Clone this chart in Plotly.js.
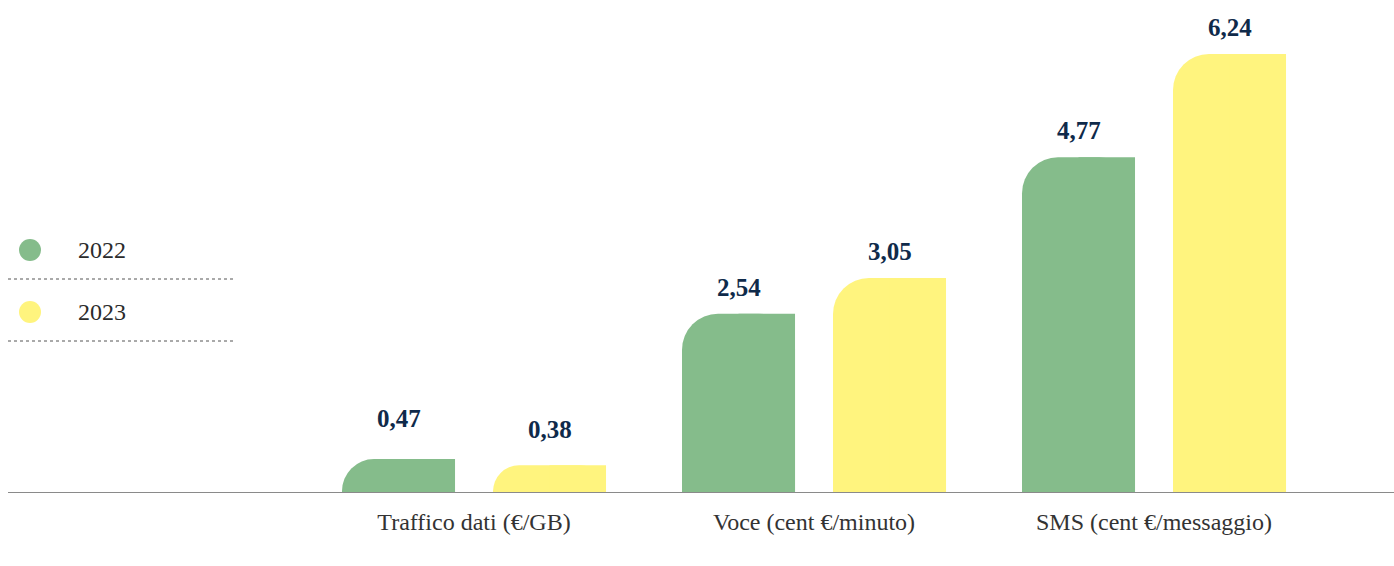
<!DOCTYPE html>
<html>
<head>
<meta charset="utf-8">
<script src="https://cdn.plot.ly/plotly-3.0.1.min.js"></script>
<style>html,body{margin:0;padding:0;background:#fff;}#chart{width:1394px;height:566px;}</style>
</head>
<body>
<div id="chart"></div>
<script>
const categories = ["Traffico dati (€/GB)", "Voce (cent €/minuto)", "SMS (cent €/messaggio)"];
const seriesNames = ["2022", "2023"];
const values2022 = [0.47, 2.54, 4.77];
const values2023 = [0.38, 3.05, 6.24];

const colors = {"2022": "#85bc8b", "2023": "#fff47e"};
const xs = categories.map((c, i) => i);
const barWidth = 0.3324;
const offsets = {"2022": -0.3882, "2023": 0.0559};
// labels over very short bars sit a bit higher in the reference
const extraLabelShift = {"2022": [14, 0, 0], "2023": [9, 0, 0]};
const fmt = v => v.toFixed(2).replace(".", ",");

const traces = [];
const annotations = [];
[["2022", values2022], ["2023", values2023]].forEach(([name, vals]) => {
  traces.push({
    type: "bar", x: xs, y: vals, name: name, showlegend: false,
    offset: offsets[name], width: barWidth,
    marker: {color: colors[name], cornerradius: 36, line: {width: 0}},
    hoverinfo: "skip"
  });
  traces.push({
    type: "bar", x: xs, y: vals, name: name, showlegend: false,
    offset: offsets[name] + barWidth / 2, width: barWidth / 2,
    marker: {color: colors[name], line: {width: 0}},
    hoverinfo: "skip"
  });
  vals.forEach((v, i) => {
    annotations.push({
      x: xs[i] + offsets[name] + barWidth / 2, y: v, xref: "x", yref: "y",
      text: fmt(v), showarrow: false, yanchor: "bottom", yshift: 11 + extraLabelShift[name][i],
      font: {family: "Liberation Serif", size: 25, color: "#0f2a4a", weight: "bold"}
    });
  });
});

const W = 1386, H = 492, L = 8;
const legendRows = [250, 312];
const shapes = [];
seriesNames.forEach((name, k) => {
  const py = legendRows[k];
  shapes.push({
    type: "circle", xref: "paper", yref: "paper",
    xsizemode: "pixel", ysizemode: "pixel",
    xanchor: (30 - L) / W, yanchor: (H - py) / H,
    x0: -11, x1: 11, y0: -11, y1: 11,
    fillcolor: colors[name], line: {width: 0}
  });
  shapes.push({
    type: "line", xref: "paper", yref: "paper",
    x0: 0, x1: (233 - L) / W, y0: (H - (py + 29)) / H, y1: (H - (py + 29)) / H,
    line: {color: "#555", width: 1, dash: "dot"}
  });
  annotations.push({
    xref: "paper", yref: "paper", x: (76 - L) / W, y: (H - py) / H,
    xanchor: "left", yanchor: "middle", text: name, showarrow: false,
    font: {family: "Liberation Serif", size: 24, color: "#2b2b2b"}
  });
});

const layout = {
  width: 1394, height: 566,
  margin: {l: 8, r: 0, t: 0, b: 74},
  paper_bgcolor: "#fff", plot_bgcolor: "#fff",
  barmode: "overlay",
  showlegend: false,
  xaxis: {
    range: [-1.3706, 2.7059], tickvals: xs, ticktext: categories,
    showgrid: false, zeroline: false, showline: true, linecolor: "#8a8a8a", linewidth: 1,
    ticks: "", ticklabelstandoff: 8,
    tickfont: {family: "Liberation Serif", size: 24, color: "#333333"},
    fixedrange: true
  },
  yaxis: {
    range: [0, 7.01], showgrid: false, zeroline: false, showline: false,
    showticklabels: false, ticks: "", fixedrange: true
  },
  annotations: annotations,
  shapes: shapes
};

Plotly.newPlot("chart", traces, layout, {displayModeBar: false, staticPlot: true});
</script>
</body>
</html>
